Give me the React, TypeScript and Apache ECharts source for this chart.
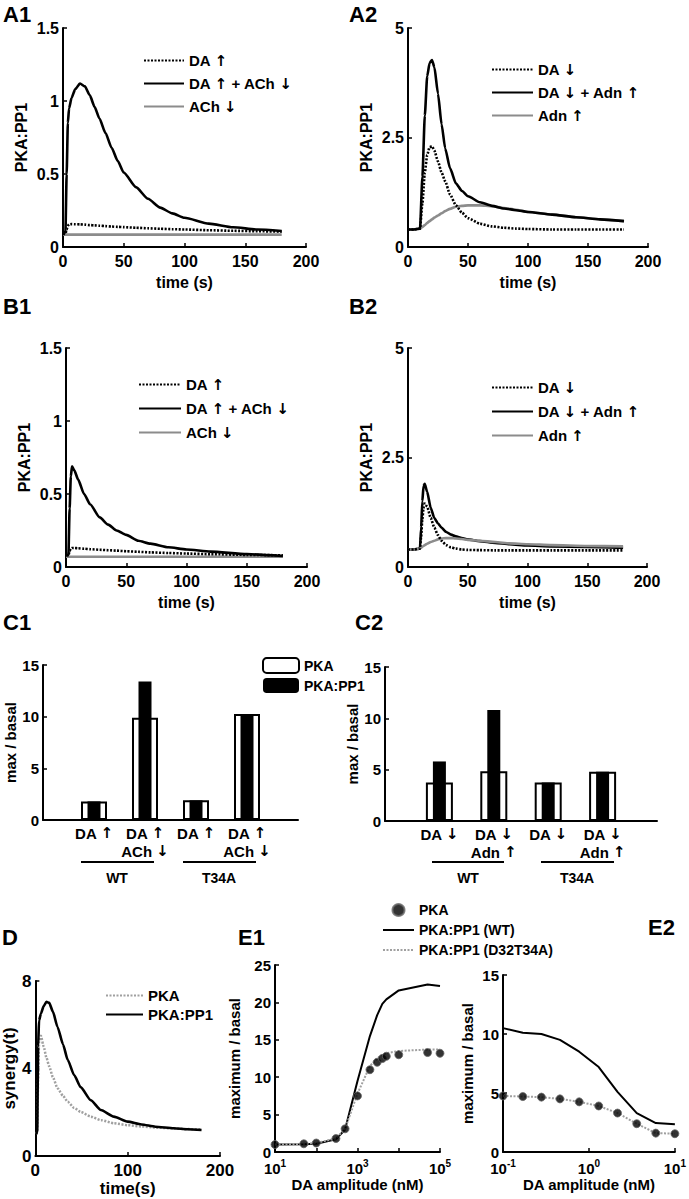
import React, { useEffect, useRef } from 'react';
import * as echarts from 'echarts';

const FONT = 'Liberation Sans, Arial, Helvetica, sans-serif';
const ARROW_FONT = 'DejaVu Sans';

// ---------- A1 ----------
const a1Time = [0, 2, 3, 4, 5, 7, 10, 14, 18, 22, 26, 30, 35, 40, 45, 50, 60, 70, 80, 90, 100, 120, 140, 160, 180];
const a1DaUp = [0.09, 0.09, 0.12, 0.145, 0.155, 0.157, 0.156, 0.155, 0.153, 0.15, 0.148, 0.146, 0.143, 0.14, 0.138, 0.136, 0.132, 0.128, 0.125, 0.122, 0.12, 0.115, 0.111, 0.108, 0.105];
const a1DaUpAchDown = [0.1, 0.1, 0.5, 0.85, 0.95, 1.02, 1.08, 1.12, 1.1, 1.04, 0.96, 0.88, 0.78, 0.68, 0.59, 0.51, 0.41, 0.33, 0.27, 0.23, 0.2, 0.16, 0.135, 0.12, 0.11];
const a1AchDown = [0.085, 0.085, 0.085, 0.085, 0.085, 0.085, 0.085, 0.085, 0.085, 0.085, 0.085, 0.085, 0.085, 0.085, 0.085, 0.085, 0.085, 0.085, 0.085, 0.085, 0.085, 0.085, 0.085, 0.085, 0.085];

// ---------- A2 ----------
const a2Time = [0, 5, 10, 12, 14, 16, 18, 20, 22, 25, 28, 31, 35, 40, 45, 50, 60, 70, 80, 90, 100, 120, 140, 160, 180];
const a2DaDown = [0.4, 0.4, 0.42, 1.0, 1.7, 2.1, 2.28, 2.3, 2.2, 1.95, 1.7, 1.5, 1.2, 0.95, 0.78, 0.66, 0.53, 0.47, 0.44, 0.42, 0.41, 0.4, 0.4, 0.4, 0.4];
const a2DaDownAdnUp = [0.4, 0.4, 0.42, 1.6, 3.0, 3.9, 4.2, 4.27, 4.1, 3.5, 2.8, 2.25, 1.8, 1.45, 1.28, 1.16, 1.02, 0.94, 0.88, 0.84, 0.8, 0.74, 0.68, 0.63, 0.59];
const a2AdnUp = [0.4, 0.4, 0.42, 0.46, 0.5, 0.55, 0.59, 0.63, 0.67, 0.72, 0.77, 0.82, 0.87, 0.92, 0.94, 0.95, 0.95, 0.93, 0.89, 0.85, 0.8, 0.74, 0.68, 0.63, 0.59];

// ---------- B1 ----------
const b1Time = [0, 2, 3, 4, 5, 7, 10, 15, 20, 28, 35, 42, 50, 60, 70, 85, 100, 120, 150, 180];
const b1DaUp = [0.08, 0.08, 0.11, 0.125, 0.13, 0.13, 0.128, 0.125, 0.122, 0.118, 0.115, 0.112, 0.108, 0.104, 0.1, 0.096, 0.092, 0.088, 0.083, 0.08];
const b1DaUpAchDown = [0.08, 0.08, 0.4, 0.62, 0.69, 0.66, 0.6, 0.5, 0.43, 0.34, 0.29, 0.25, 0.22, 0.18, 0.16, 0.135, 0.12, 0.105, 0.088, 0.075];
const b1AchDown = [0.07, 0.07, 0.07, 0.07, 0.07, 0.07, 0.07, 0.07, 0.07, 0.07, 0.07, 0.07, 0.07, 0.07, 0.07, 0.07, 0.07, 0.07, 0.07, 0.07];

// ---------- B2 ----------
const b2Time = [0, 5, 10, 11, 12, 13, 14, 16, 19, 22, 25, 28, 32, 36, 40, 45, 50, 60, 73, 85, 100, 120, 150, 180];
const b2DaDown = [0.4, 0.4, 0.42, 0.7, 1.1, 1.35, 1.45, 1.38, 1.12, 0.9, 0.73, 0.6, 0.5, 0.45, 0.42, 0.4, 0.39, 0.385, 0.38, 0.38, 0.38, 0.38, 0.38, 0.38];
const b2DaDownAdnUp = [0.4, 0.4, 0.42, 0.9, 1.5, 1.85, 1.9, 1.72, 1.35, 1.12, 1.0, 0.9, 0.8, 0.74, 0.7, 0.66, 0.63, 0.59, 0.55, 0.52, 0.49, 0.47, 0.46, 0.44];
const b2AdnUp = [0.4, 0.4, 0.42, 0.44, 0.46, 0.48, 0.5, 0.53, 0.57, 0.6, 0.63, 0.65, 0.66, 0.66, 0.65, 0.64, 0.62, 0.6, 0.57, 0.54, 0.52, 0.5, 0.48, 0.47];

// ---------- C1 / C2 ----------
const cPositions = [1, 2, 3, 4];
const c1Labels = ['DA ↑', 'DA ↑\nACh ↓', 'DA ↑', 'DA ↑\nACh ↓'];
const c1Pka = [1.8, 9.9, 1.9, 10.25];
const c1PkaPp1 = [1.8, 13.4, 1.9, 10.25];
const c2Labels = ['DA ↓', 'DA ↓\nAdn ↑', 'DA ↓', 'DA ↓\nAdn ↑'];
const c2Pka = [3.75, 4.85, 3.75, 4.8];
const c2PkaPp1 = [5.8, 10.8, 3.75, 4.8];
const cGroups = ['WT', 'T34A'];

// ---------- D ----------
const dTime = [1, 2, 3, 4, 6, 9, 12, 15, 19, 24, 30, 35, 42, 49, 60, 71, 85, 100, 115, 130, 150, 165, 180];
const dPkaPp1 = [1.0, 1.1, 5.0, 6.2, 6.5, 6.85, 7.05, 7.0, 6.6, 5.9, 5.1, 4.4, 3.7, 3.15, 2.55, 2.1, 1.8, 1.57, 1.44, 1.34, 1.27, 1.22, 1.19];
const dPka = [1.0, 1.1, 3.5, 5.2, 5.5, 5.0, 4.5, 4.1, 3.6, 3.1, 2.75, 2.48, 2.2, 2.02, 1.8, 1.64, 1.5, 1.41, 1.35, 1.3, 1.26, 1.23, 1.22];

// ---------- E1 ----------
const e1Amp = [10, 50, 100, 300, 500, 1000, 2000, 3000, 4000, 5000, 10000, 50000, 100000];
const e1Pka = [1.0, 1.1, 1.2, 1.8, 3.1, 7.5, 11.0, 12.0, 12.5, 12.8, 13.0, 13.3, 13.2];
const e1PkaPp1Wt = [1.0, 1.05, 1.1, 1.7, 3.0, 9.5, 15.5, 18.3, 19.8, 20.4, 21.6, 22.4, 22.2];
const e1PkaPp1Mut = [1.0, 1.1, 1.2, 1.8, 3.1, 7.8, 11.5, 12.5, 13.0, 13.2, 13.5, 13.7, 13.7];

// ---------- E2 ----------
const e2Amp = [0.1, 0.17, 0.28, 0.46, 0.77, 1.3, 2.15, 3.6, 6, 10];
const e2Pka = [4.75, 4.7, 4.65, 4.5, 4.25, 3.9, 3.3, 2.4, 1.6, 1.55];
const e2PkaPp1Wt = [10.5, 10.1, 10.0, 9.5, 8.5, 7.2, 5.1, 3.3, 2.45, 2.35];
const e2PkaPp1Mut = [4.75, 4.7, 4.65, 4.5, 4.25, 3.9, 3.3, 2.4, 1.6, 1.55];

const zip = (xs: number[], ys: number[]) => xs.map((x, i) => [x, ys[i]]);
const arrowize = (s: string) => s.replace(/↑/g, '{ar|↑}').replace(/↓/g, '{ar|↓}');
const strip = (name: string) => arrowize(name.split('|')[1]);

const BLACK = '#000';
const GRAY = '#8c8c8c';
const LGRAY = '#a0a0a0';

const arrowRich = (fs: number) => ({ ar: { fontFamily: ARROW_FONT, fontSize: fs, fontWeight: 'bold', color: BLACK } });

const axisLine = { show: true, onZero: false, lineStyle: { color: BLACK, width: 2 } };
const axisTick = { show: true, inside: true, length: 4, lineStyle: { color: BLACK, width: 1.5 } };
const lbl = (fs: number, margin = 6) => ({ color: BLACK, fontSize: fs, fontWeight: 'bold', fontFamily: FONT, margin });
const nameStyle = (fs: number) => ({ color: BLACK, fontSize: fs, fontWeight: 'bold', fontFamily: FONT });

function xVal(gridIndex: number, min: number, max: number, interval: number, fs: number, name: string, nameGap: number) {
  return {
    type: 'value', gridIndex, min, max, interval,
    axisLine, axisTick, splitLine: { show: false },
    axisLabel: lbl(fs, 6),
    name, nameLocation: 'middle', nameGap, nameTextStyle: nameStyle(fs),
  };
}
function yVal(gridIndex: number, min: number, max: number, interval: number, fs: number, name: string, nameGap: number) {
  return {
    type: 'value', gridIndex, min, max, interval,
    axisLine, axisTick, splitLine: { show: false },
    axisLabel: lbl(fs, 4),
    name, nameLocation: 'middle', nameGap, nameTextStyle: nameStyle(fs),
  };
}

const lineSeries = (name: string, xi: number, data: number[][], color: string, type: any, width = 2.6, smooth: any = 0.2) => ({
  type: 'line', name, xAxisIndex: xi, yAxisIndex: xi, data,
  symbol: 'none', showSymbol: false, smooth, smoothMonotone: 'x',
  lineStyle: { color, width, type }, itemStyle: { color },
  z: 3,
});

const legendText = (fs: number) => ({ color: BLACK, fontSize: fs, fontWeight: 'bold', fontFamily: FONT, rich: arrowRich(fs) });

const logFmt = (show: (e: number) => boolean) => (v: number) => {
  const e = Math.round(Math.log10(v));
  return show(e) ? `{b|10}{s|${e}}` : '';
};
const logRich = {
  b: { fontSize: 15, fontWeight: 'bold', fontFamily: FONT, color: BLACK },
  s: { fontSize: 10, fontWeight: 'bold', fontFamily: FONT, color: BLACK, padding: [0, 0, 10, 0] },
};

function buildOption() {
  const grid = [
    { left: 63, top: 28, width: 243, height: 219 },   // A1
    { left: 408, top: 28, width: 240, height: 219 },  // A2
    { left: 66, top: 348, width: 241, height: 219 },  // B1
    { left: 408, top: 348, width: 239, height: 219 }, // B2
    { left: 43, top: 665, width: 255, height: 155 },  // C1
    { left: 385, top: 667, width: 272, height: 154 }, // C2
    { left: 34, top: 981, width: 186, height: 175 },  // D
    { left: 275, top: 965, width: 165, height: 187 }, // E1
    { left: 503, top: 975, width: 175, height: 177 }, // E2
  ];

  const cX = (gridIndex: number, labels: string[]) => ({
    type: 'value', gridIndex, min: 0, max: 5, interval: 1,
    axisLine, axisTick: { show: false }, splitLine: { show: false },
    axisLabel: {
      ...lbl(15, 4), lineHeight: 18,
      rich: { ar: { ...arrowRich(15).ar, lineHeight: 18 } },
      formatter: (v: number) => (v >= 1 && v <= 4 ? arrowize(labels[v - 1]) : ''),
    },
  });
  const cOverlay = (gridIndex: number) => ({ type: 'value', gridIndex, min: 0, max: 5, show: false });

  const logX = (gridIndex: number, min: number, max: number, show: (e: number) => boolean) => ({
    type: 'log', logBase: 10, gridIndex, min, max,
    axisLine, axisTick, splitLine: { show: false }, minorTick: { show: false },
    axisLabel: { ...lbl(15, 6), formatter: logFmt(show), rich: logRich },
    name: 'DA amplitude (nM)', nameLocation: 'middle', nameGap: 25, nameTextStyle: nameStyle(15),
  });

  const xAxis = [
    xVal(0, 0, 200, 50, 16, 'time (s)', 27),
    xVal(1, 0, 200, 50, 16, 'time (s)', 27),
    xVal(2, 0, 200, 50, 16, 'time (s)', 27),
    xVal(3, 0, 200, 50, 16, 'time (s)', 27),
    cX(4, c1Labels),
    cOverlay(4),
    cX(5, c2Labels),
    cOverlay(5),
    xVal(6, 0, 200, 100, 17, 'time(s)', 20),
    logX(7, 10, 100000, (e) => e % 2 !== 0),
    logX(8, 0.1, 10, () => true),
  ];

  const yAxis = [
    yVal(0, 0, 1.5, 0.5, 16, 'PKA:PP1', 34),
    yVal(1, 0, 5, 2.5, 16, 'PKA:PP1', 34),
    yVal(2, 0, 1.5, 0.5, 16, 'PKA:PP1', 34),
    yVal(3, 0, 5, 2.5, 16, 'PKA:PP1', 34),
    yVal(4, 0, 15, 5, 15, 'max / basal', 25),
    yVal(5, 0, 15, 5, 15, 'max / basal', 24),
    yVal(6, 0, 8, 4, 17, 'synergy(t)', 16),
    yVal(7, 0, 25, 5, 15, 'maximum / basal', 33),
    yVal(8, 0, 15, 5, 15, 'maximum / basal', 28),
  ];

  const barSeries = (name: string, xi: number, yi: number, vals: number[], white: boolean, width: number) => ({
    type: 'bar', name, xAxisIndex: xi, yAxisIndex: yi,
    data: zip(cPositions, vals), barWidth: width,
    itemStyle: white ? { color: '#fff', borderColor: BLACK, borderWidth: 2 } : { color: BLACK, borderColor: BLACK, borderWidth: 0 },
    z: white ? 2 : 3,
  });

  const dotStyle = { color: '#000', borderColor: '#666', borderWidth: 1 };

  const series: any[] = [
    // A1
    lineSeries('A1|ACh ↓', 0, zip(a1Time, a1AchDown), GRAY, 'solid'),
    lineSeries('A1|DA ↑', 0, zip(a1Time, a1DaUp), BLACK, [2, 1.5]),
    lineSeries('A1|DA ↑ + ACh ↓', 0, zip(a1Time, a1DaUpAchDown), BLACK, 'solid'),
    // A2
    lineSeries('A2|Adn ↑', 1, zip(a2Time, a2AdnUp), GRAY, 'solid'),
    lineSeries('A2|DA ↓', 1, zip(a2Time, a2DaDown), BLACK, [2, 1.5]),
    lineSeries('A2|DA ↓ + Adn ↑', 1, zip(a2Time, a2DaDownAdnUp), BLACK, 'solid'),
    // B1
    lineSeries('B1|ACh ↓', 2, zip(b1Time, b1AchDown), GRAY, 'solid'),
    lineSeries('B1|DA ↑', 2, zip(b1Time, b1DaUp), BLACK, [2, 1.5]),
    lineSeries('B1|DA ↑ + ACh ↓', 2, zip(b1Time, b1DaUpAchDown), BLACK, 'solid'),
    // B2
    lineSeries('B2|DA ↓ + Adn ↑', 3, zip(b2Time, b2DaDownAdnUp), BLACK, 'solid'),
    lineSeries('B2|Adn ↑', 3, zip(b2Time, b2AdnUp), GRAY, 'solid'),
    lineSeries('B2|DA ↓', 3, zip(b2Time, b2DaDown), BLACK, [2, 1.5]),
    // C1
    barSeries('C|PKA', 4, 4, c1Pka, true, 26),
    barSeries('C|PKA:PP1', 5, 4, c1PkaPp1, false, 13),
    // C2
    barSeries('C2|PKA', 6, 5, c2Pka, true, 27),
    barSeries('C2|PKA:PP1', 7, 5, c2PkaPp1, false, 13),
    // D
    { ...lineSeries('D|PKA', 8, zip(dTime, dPka), LGRAY, [2, 1.5], 2.5), yAxisIndex: 6 },
    { ...lineSeries('D|PKA:PP1', 8, zip(dTime, dPkaPp1), BLACK, 'solid', 2.6), yAxisIndex: 6 },
    // E1
    { ...lineSeries('E|PKA:PP1 (WT)', 9, zip(e1Amp, e1PkaPp1Wt), BLACK, 'solid', 2, false), yAxisIndex: 7 },
    { ...lineSeries('E|PKA:PP1 (D32T34A)', 9, zip(e1Amp, e1PkaPp1Mut), LGRAY, [2, 1.5], 2, false), yAxisIndex: 7 },
    {
      type: 'scatter', name: 'E|PKA', xAxisIndex: 9, yAxisIndex: 7, data: zip(e1Amp, e1Pka),
      symbol: 'circle', symbolSize: 8, itemStyle: dotStyle, z: 4,
    },
    // E2
    { ...lineSeries('E2|PKA:PP1 (WT)', 10, zip(e2Amp, e2PkaPp1Wt), BLACK, 'solid', 2, false), yAxisIndex: 8 },
    { ...lineSeries('E2|PKA:PP1 (D32T34A)', 10, zip(e2Amp, e2PkaPp1Mut), LGRAY, [2, 1.5], 2, false), yAxisIndex: 8 },
    {
      type: 'scatter', name: 'E2|PKA', xAxisIndex: 10, yAxisIndex: 8, data: zip(e2Amp, e2Pka),
      symbol: 'circle', symbolSize: 8, itemStyle: dotStyle, z: 4,
    },
  ];

  const legBase = {
    orient: 'vertical', selectedMode: false, padding: 0, formatter: strip,
  };
  const noDot = (name: string) => ({ name, itemStyle: { opacity: 0 } });
  const legend = [
    { ...legBase, left: 143, top: 53, itemWidth: 40, itemHeight: 14, itemGap: 8, textStyle: legendText(15),
      data: ['A1|DA ↑', 'A1|DA ↑ + ACh ↓', 'A1|ACh ↓'].map(noDot) },
    { ...legBase, left: 491, top: 62, itemWidth: 41, itemHeight: 14, itemGap: 8, textStyle: legendText(15),
      data: ['A2|DA ↓', 'A2|DA ↓ + Adn ↑', 'A2|Adn ↑'].map(noDot) },
    { ...legBase, left: 138, top: 377, itemWidth: 42, itemHeight: 14, itemGap: 9, textStyle: legendText(15),
      data: ['B1|DA ↑', 'B1|DA ↑ + ACh ↓', 'B1|ACh ↓'].map(noDot) },
    { ...legBase, left: 491, top: 380, itemWidth: 41, itemHeight: 14, itemGap: 9, textStyle: legendText(15),
      data: ['B2|DA ↓', 'B2|DA ↓ + Adn ↑', 'B2|Adn ↑'].map(noDot) },
    { ...legBase, left: 262, top: 657, itemWidth: 36, itemHeight: 15, itemGap: 4, textStyle: legendText(14),
      data: ['C|PKA', 'C|PKA:PP1'] },
    { ...legBase, left: 105, top: 988, itemWidth: 37, itemHeight: 14, itemGap: 4, textStyle: legendText(15),
      data: ['D|PKA', 'D|PKA:PP1'].map(noDot) },
    { ...legBase, left: 382, top: 903, itemWidth: 31, itemHeight: 12, itemGap: 6, textStyle: legendText(14),
      data: [{ name: 'E|PKA' }, noDot('E|PKA:PP1 (WT)'), noDot('E|PKA:PP1 (D32T34A)')] },
  ];

  const panelLabel = (text: string, x: number, y: number) => ({
    type: 'text', x, y,
    style: { text, fill: BLACK, font: `bold 22px ${FONT}`, verticalAlign: 'middle' },
  });
  const hLine = (x1: number, x2: number, y: number) => ({
    type: 'line', shape: { x1, y1: y, x2, y2: y }, style: { stroke: BLACK, lineWidth: 2 },
  });
  const groupText = (text: string, x: number, y: number) => ({
    type: 'text', x, y,
    style: { text, fill: BLACK, font: `bold 14px ${FONT}`, align: 'center', verticalAlign: 'middle' },
  });

  const graphic = [
    panelLabel('A1', 3, 14),
    panelLabel('A2', 349, 14),
    panelLabel('B1', 3, 306),
    panelLabel('B2', 349, 306),
    panelLabel('C1', 3, 622),
    panelLabel('C2', 355, 622),
    panelLabel('D', 2, 937),
    panelLabel('E1', 238, 937),
    panelLabel('E2', 648, 927),
    hLine(81, 154, 862), groupText(cGroups[0], 117, 878),
    hLine(183, 256, 862), groupText(cGroups[1], 219, 878),
    hLine(432, 504, 862), groupText(cGroups[0], 468, 878),
    hLine(541, 614, 862), groupText(cGroups[1], 577, 878),
  ];

  return {
    animation: false,
    backgroundColor: '#fff',
    textStyle: { fontFamily: FONT },
    grid, xAxis, yAxis, series, legend, graphic,
  };
}

export default function App() {
  const ref = useRef<HTMLDivElement>(null);
  useEffect(() => {
    if (!ref.current) return;
    const chart = echarts.init(ref.current, undefined, { renderer: 'svg' });
    chart.setOption(buildOption() as any);
    return () => chart.dispose();
  }, []);
  return (
    <div
      ref={ref}
      style={{ position: 'absolute', left: 0, top: 0, width: 689, height: 1199, background: '#fff' }}
    />
  );
}
